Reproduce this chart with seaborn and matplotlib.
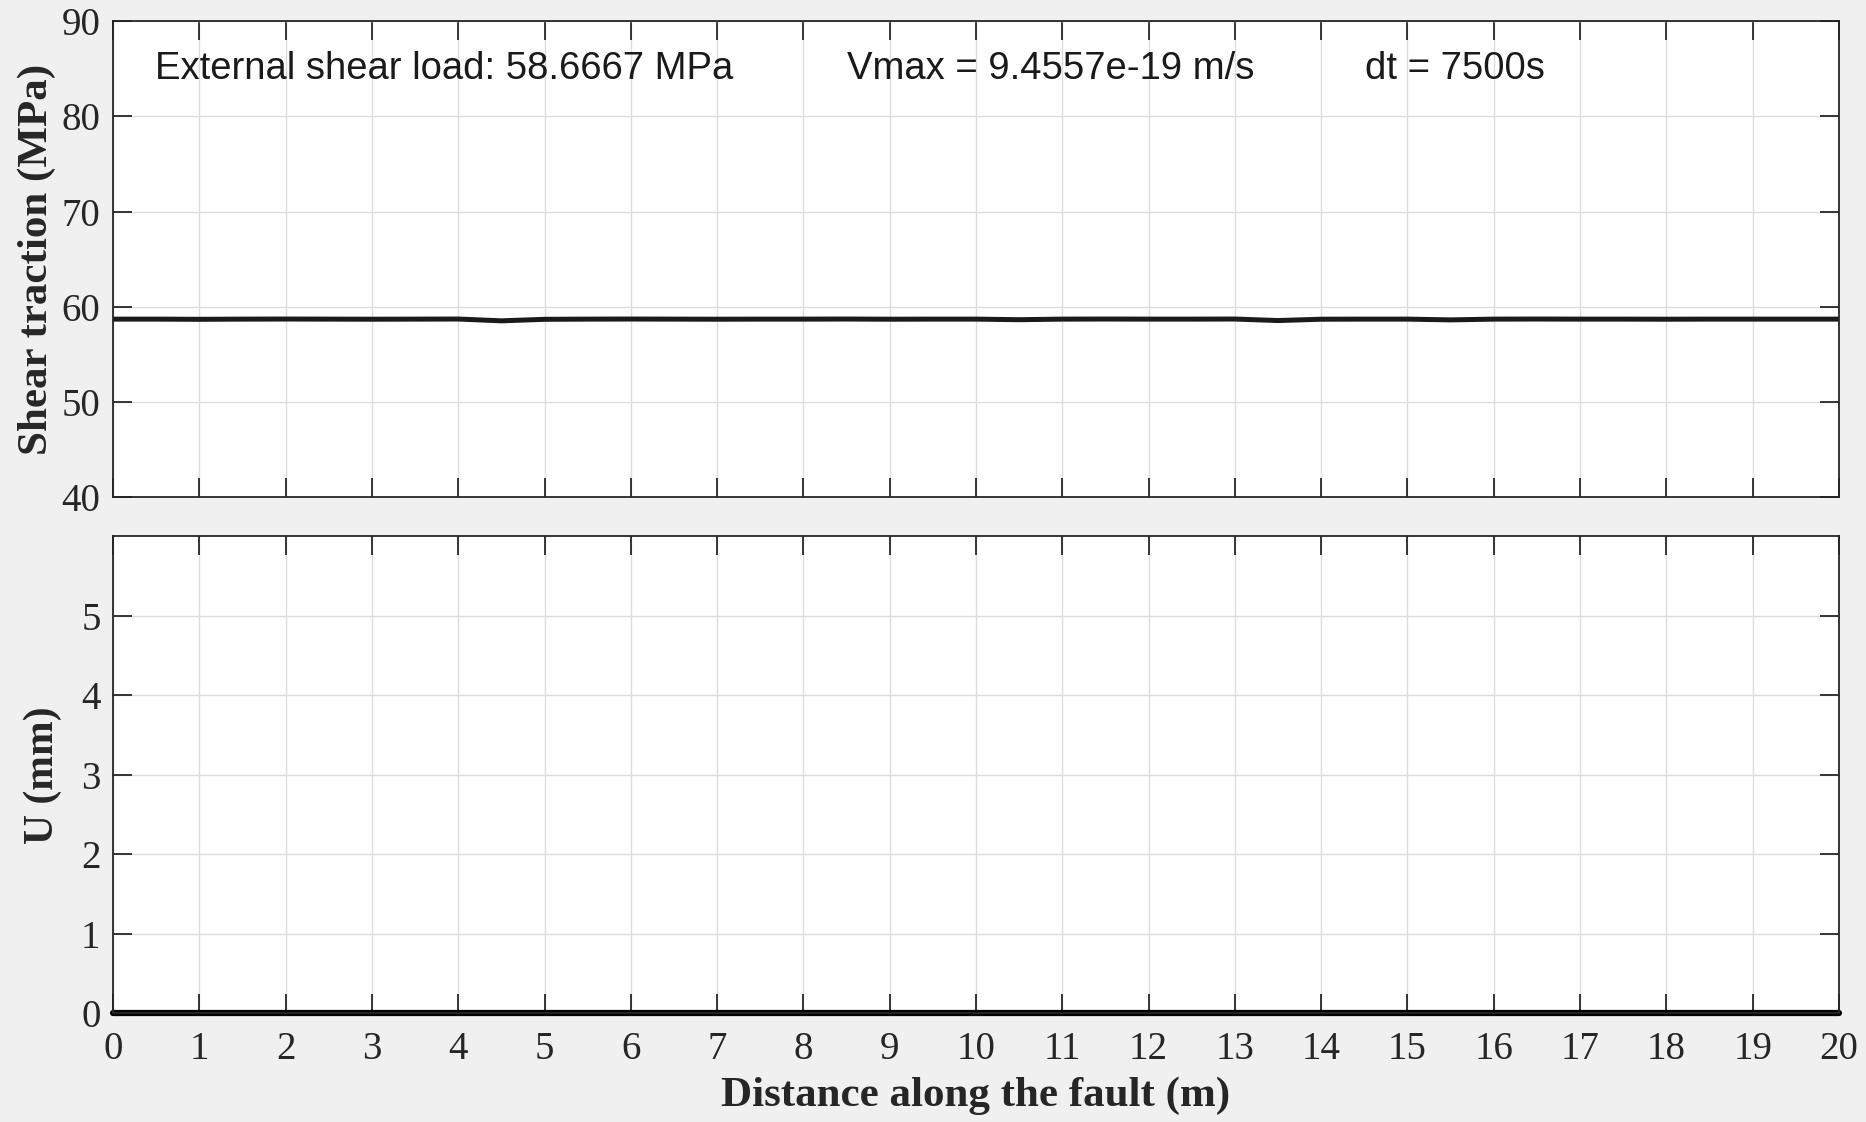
import matplotlib
matplotlib.use("Agg")
import matplotlib.pyplot as plt
import seaborn as sns
import pandas as pd

sns.set_theme(style="whitegrid")
plt.rcParams['font.family'] = ['Liberation Serif', 'DejaVu Serif']

# Data
distance = [0.0, 0.5, 1.0, 1.5, 2.0, 2.5, 3.0, 3.5, 4.0, 4.5, 5.0, 5.5, 6.0, 6.5, 7.0,
            7.5, 8.0, 8.5, 9.0, 9.5, 10.0, 10.5, 11.0, 11.5, 12.0, 12.5, 13.0, 13.5,
            14.0, 14.5, 15.0, 15.5, 16.0, 16.5, 17.0, 17.5, 18.0, 18.5, 19.0, 19.5, 20.0]
shear = [58.70, 58.70, 58.68, 58.70, 58.71, 58.70, 58.69, 58.70, 58.71, 58.52, 58.68,
         58.70, 58.71, 58.70, 58.69, 58.70, 58.70, 58.71, 58.69, 58.70, 58.70, 58.64,
         58.70, 58.71, 58.70, 58.70, 58.71, 58.55, 58.69, 58.70, 58.70, 58.62, 58.70,
         58.71, 58.70, 58.70, 58.69, 58.70, 58.70, 58.70, 58.70]
slip = [0.0] * len(distance)

x_ticks = list(range(0, 21))
y1_ticks = [40, 50, 60, 70, 80, 90]
y2_ticks = [0, 1, 2, 3, 4, 5]
label_load = "External shear load: 58.6667 MPa"
label_vmax = "Vmax = 9.4557e-19 m/s"
label_dt = "dt = 7500s"

df = pd.DataFrame({"x": distance, "shear": shear, "slip": slip})

fig = plt.figure(figsize=(18.66, 11.22), dpi=100, facecolor="#f0f0f0")
ax1 = fig.add_axes([0.0606, 0.557, 0.9249, 0.424])
ax2 = fig.add_axes([0.0606, 0.097, 0.9249, 0.425])

sns.lineplot(data=df, x="x", y="shear", ax=ax1, color="#1a1a1a", linewidth=3.6)
sns.lineplot(data=df, x="x", y="slip", ax=ax2, color="black", linewidth=4.5, clip_on=False)

for ax, yt, yl in [(ax1, y1_ticks, (40, 90)), (ax2, y2_ticks, (0, 6))]:
    ax.set_facecolor("white")
    ax.set_xlim(0, 20)
    ax.set_ylim(*yl)
    ax.set_xticks(x_ticks)
    ax.set_yticks(yt)
    ax.grid(True, color="#dcdcdc", linewidth=1.0)
    for s in ax.spines.values():
        s.set_color("#262626")
        s.set_linewidth(1.3)
        s.set_visible(True)
    ax.tick_params(direction="in", length=14, width=1.3, color="#262626",
                   labelsize=28, labelcolor="#262626", top=True, right=True,
                   bottom=True, left=True, pad=9)
    ax.set_xlabel("")
    ax.set_ylabel("")

ax2.tick_params(axis="x", pad=13)
ax1.tick_params(labelbottom=False)
ax1.set_ylabel("Shear traction (MPa)", fontsize=31, fontweight="bold", color="#262626", labelpad=4)
ax2.set_ylabel("U (mm)", fontsize=30, fontweight="bold", color="#262626", labelpad=14)
ax2.set_xlabel("Distance along the fault (m)", fontsize=31, fontweight="bold", color="#262626", labelpad=6)

sans = ['Liberation Sans', 'DejaVu Sans']
ax1.text(0.48, 85.0, label_load, fontsize=27.5, family=sans, va="center", ha="left", color="#1a1a1a")
ax1.text(8.51, 85.0, label_vmax, fontsize=27.5, family=sans, va="center", ha="left", color="#1a1a1a")
ax1.text(14.51, 85.0, label_dt, fontsize=27.5, family=sans, va="center", ha="left", color="#1a1a1a")

fig.savefig("out.png", dpi=100, facecolor=fig.get_facecolor())
